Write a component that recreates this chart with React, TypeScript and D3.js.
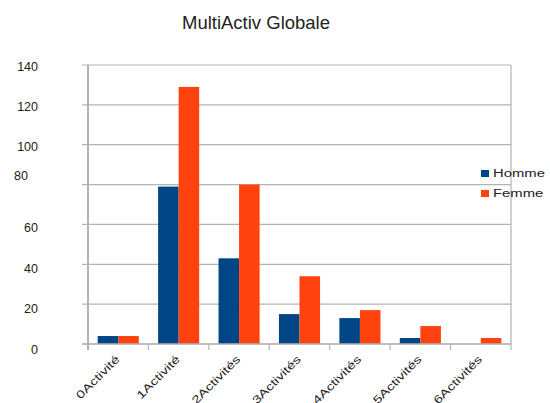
import React from "react";
import * as d3 from "d3";

const categories = ["0Activité", "1Activité", "2Activités", "3Activités", "4Activités", "5Activités", "6Activités"];
const seriesNames = ["Homme", "Femme"];
const hommeValues = [4, 79, 43, 15, 13, 3, 0];
const femmeValues = [4, 129, 80, 34, 17, 9, 3];
const yTicks = [0, 20, 40, 60, 80, 100, 120, 140];
const colors = ["#004586", "#ff420e"];

const W = 550;
const H = 403;
const M = { left: 88, right: 511, top: 65, bottom: 344 };
const FONT = "'Liberation Sans', Arial, sans-serif";

export default function App() {
  const x = d3.scaleBand<string>().domain(categories).range([M.left, M.right]).paddingInner(0.32).paddingOuter(0.16);
  const step = (M.right - M.left) / categories.length;
  const xs = d3.scaleBand<string>().domain(seriesNames).range([0, x.bandwidth()]);
  const y = d3.scaleLinear().domain([0, 140]).range([M.bottom, M.top]);
  const series = [hommeValues, femmeValues];
  const grid = "#b3b3b3";

  return (
    <div style={{ position: "absolute", left: 0, top: 0 }}>
      <svg width={W} height={H} style={{ display: "block", background: "#fff" }} fontFamily={FONT}>
        <text x={256} y={29} textAnchor="middle" fontSize={18.5} fill="#222">MultiActiv Globale</text>
        {yTicks.map((t) => (
          <g key={t}>
            <line x1={M.left - 6} x2={M.right} y1={y(t)} y2={y(t)} stroke={grid} strokeWidth={1.2} />
            <text
              x={t === 80 ? 28 : 38}
              y={t === 80 ? y(t) - 5 : y(t) + 5.5 + (140 - t) * 0.03}
              textAnchor="end"
              fontSize={12.5}
              fill="#222"
            >
              {t}
            </text>
          </g>
        ))}
        <line x1={M.right} x2={M.right} y1={M.top} y2={M.bottom} stroke={grid} strokeWidth={1.2} />
        {d3.range(categories.length + 1).map((i) => (
          <line key={i} x1={M.left + i * step} x2={M.left + i * step} y1={M.bottom} y2={M.bottom + 6} stroke={grid} strokeWidth={1.2} />
        ))}
        {categories.map((c, ci) =>
          series.map((vals, si) => (
            <rect
              key={c + si}
              x={(x(c) as number) + (xs(seriesNames[si]) as number)}
              y={y(vals[ci])}
              width={xs.bandwidth()}
              height={M.bottom - y(vals[ci])}
              fill={colors[si]}
            />
          ))
        )}
        <line x1={M.left} x2={M.left} y1={M.top} y2={M.bottom + 6} stroke={grid} strokeWidth={2} />
        <line x1={M.left - 6} x2={M.right} y1={M.bottom} y2={M.bottom} stroke={grid} strokeWidth={1.5} />
        {categories.map((c) => {
          const cx = (x(c) as number) + x.bandwidth() / 2 + 2;
          return (
            <text
              key={c}
              transform={`translate(${cx},${M.bottom + 16}) rotate(-45) scale(1.35,1)`}
              textAnchor="end"
              fontSize={11}
              fill="#222"
            >
              {c}
            </text>
          );
        })}
        {seriesNames.map((s, i) => (
          <g key={s}>
            <rect x={481} y={170 + i * 20} width={8} height={7} fill={colors[i]} />
            <text transform={`translate(493,${177 + i * 20}) scale(1.35,1)`} fontSize={11} fill="#222">{s}</text>
          </g>
        ))}
      </svg>
    </div>
  );
}
